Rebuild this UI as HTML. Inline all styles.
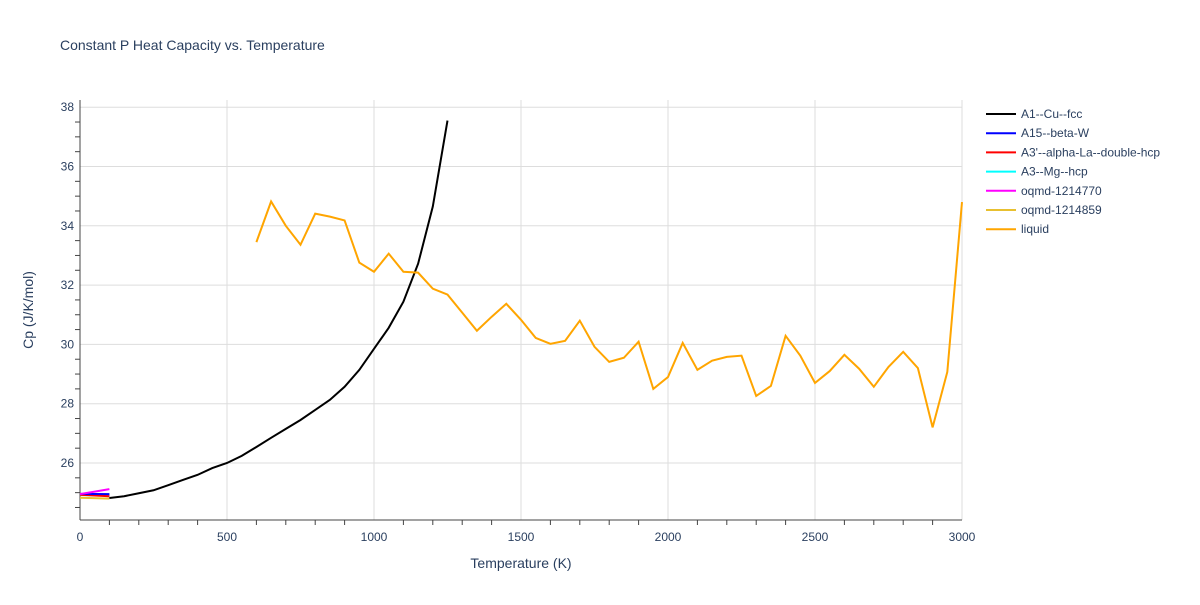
<!DOCTYPE html>
<html><head><meta charset="utf-8"><style>
body{margin:0;background:#fff;font-family:"Liberation Sans",Arial,sans-serif;}
svg text{font-family:"Liberation Sans",Arial,sans-serif;fill:#2a3f5f;}
</style></head><body>
<svg id="chart" width="1200" height="600" xmlns="http://www.w3.org/2000/svg">
<rect width="1200" height="600" fill="#fff"/>
<text x="60" y="50" font-size="14">Constant P Heat Capacity vs. Temperature</text>
<g id="grid"></g><g id="axes"></g><g id="series"></g><g id="legend"></g>
<text x="521" y="568" font-size="14" text-anchor="middle">Temperature (K)</text>
<text x="33" y="310" font-size="14" text-anchor="middle" transform="rotate(-90 33 310)">Cp (J/K/mol)</text>
</svg>
<script>
const xTicks=[0,500,1000,1500,2000,2500,3000];
const yTicks=[26,28,30,32,34,36,38];
const seriesNames=["A1--Cu--fcc","A15--beta-W","A3'--alpha-La--double-hcp","A3--Mg--hcp","oqmd-1214770","oqmd-1214859","liquid"];
const seriesColors=["#000000","#0000ff","#ff0000","#00ffff","#ff00ff","#e8c030","#ffa500"];
const fccT=[100,150,200,250,300,350,400,450,500,550,600,650,700,750,800,850,900,950,1000,1050,1100,1150,1200,1250];
const fccCp=[24.82,24.88,24.98,25.08,25.25,25.43,25.6,25.83,26.0,26.24,26.54,26.85,27.15,27.45,27.79,28.13,28.57,29.14,29.85,30.56,31.44,32.72,34.65,37.55];
const smallT=[0,100];
const betaWCp=[24.96,24.95];
const laCp=[24.93,24.88];
const mgCp=[24.92,24.9];
const oqmd770Cp=[24.95,25.12];
const oqmd859Cp=[24.83,24.8];
const liqT=[600,650,700,750,800,850,900,950,1000,1050,1100,1150,1200,1250,1300,1350,1400,1450,1500,1550,1600,1650,1700,1750,1800,1850,1900,1950,2000,2050,2100,2150,2200,2250,2300,2350,2400,2450,2500,2550,2600,2650,2700,2750,2800,2850,2900,2950,3000];
const liqCp=[33.45,34.82,34.0,33.36,34.41,34.31,34.18,32.76,32.45,33.06,32.45,32.42,31.88,31.68,31.07,30.46,30.93,31.37,30.83,30.22,30.02,30.12,30.8,29.92,29.41,29.55,30.09,28.5,28.9,30.05,29.14,29.45,29.58,29.62,28.26,28.6,30.29,29.62,28.7,29.1,29.65,29.18,28.57,29.24,29.75,29.2,27.2,29.07,34.8];

const NS="http://www.w3.org/2000/svg";
const X0=80,X1=962,Y0=520,Y1=100;
const xs=t=>X0+(t-0)/3000*(X1-X0);
const ys=v=>463-(v-26)*29.65;
function mk(tag,attrs,parent){const e=document.createElementNS(NS,tag);for(const k in attrs)e.setAttribute(k,attrs[k]);parent.appendChild(e);return e;}
const grid=document.getElementById('grid'),axes=document.getElementById('axes'),ser=document.getElementById('series'),leg=document.getElementById('legend');
xTicks.forEach(t=>{
 if(t>0){const l=mk('line',{x1:xs(t),x2:xs(t),y1:Y1,y2:Y0,stroke:'#ddd'},grid);
 
 }
 const tx=mk('text',{x:xs(t),y:541,'font-size':12,'text-anchor':'middle'},axes);tx.textContent=t;
 
 
});
for(let t=100;t<3000;t+=100){if(t%500)mk('line',{x1:xs(t),x2:xs(t),y1:Y0,y2:Y0+5,stroke:'#444'},axes);}
yTicks.forEach(v=>{
 const l=mk('line',{x1:X0,x2:X1,y1:ys(v),y2:ys(v),stroke:'#ddd'},grid);
 
 
 const tx=mk('text',{x:X0-6,y:ys(v)+4,'font-size':12,'text-anchor':'end'},axes);tx.textContent=v;
 
 
});
for(let v=24.5;v<38.2;v+=0.5){if(v%2)mk('line',{x1:X0-5,x2:X0,y1:ys(v),y2:ys(v),stroke:'#444'},axes);}
mk('line',{x1:X0,x2:X0,y1:Y1,y2:Y0,stroke:'#444'},axes);
mk('line',{x1:X0,x2:X1,y1:Y0,y2:Y0,stroke:'#444'},axes);
function line(T,V,c,name){const p=mk('polyline',{points:T.map((t,i)=>xs(t)+','+ys(V[i])).join(' '),fill:'none',stroke:c,'stroke-width':2},ser);
 
 }
line(smallT,oqmd859Cp,seriesColors[5],'series-oqmd-1214859');
line(smallT,mgCp,seriesColors[3],'series-a3-mg-hcp');
line(smallT,laCp,seriesColors[2],'series-a3-alpha-la');
line(smallT,betaWCp,seriesColors[1],'series-a15-beta-w');
line(smallT,oqmd770Cp,seriesColors[4],'series-oqmd-1214770');
line(fccT,fccCp,seriesColors[0],'series-a1-cu-fcc');
line(liqT,liqCp,seriesColors[6],'series-liquid');
seriesNames.forEach((n,i)=>{
 const y=114+i*19.2;
 const g=mk('g',{},leg);
 
 
 mk('line',{x1:986,x2:1016,y1:y,y2:y,stroke:seriesColors[i],'stroke-width':2},g);
 const t=mk('text',{x:1021,y:y+4,'font-size':12},g);t.textContent=n;
});
</script>
</body></html>
